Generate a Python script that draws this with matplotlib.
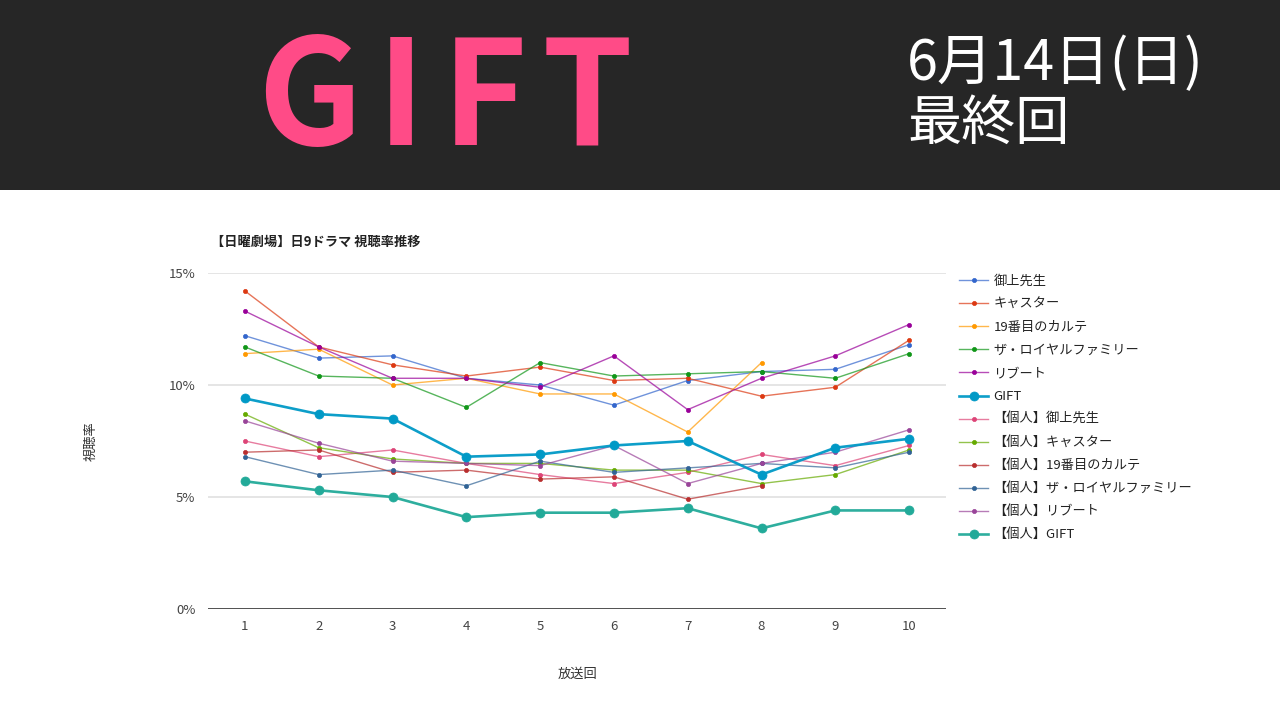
import matplotlib
matplotlib.use("Agg")
import matplotlib.pyplot as plt
from matplotlib.patches import Rectangle
from matplotlib.colors import to_rgba

plt.rcParams['font.family'] = ['Noto Sans CJK JP', 'DejaVu Sans']

episodes = [1, 2, 3, 4, 5, 6, 7, 8, 9, 10]
series_names = ["御上先生", "キャスター", "19番目のカルテ", "ザ・ロイヤルファミリー", "リブート", "GIFT",
                "【個人】御上先生", "【個人】キャスター", "【個人】19番目のカルテ",
                "【個人】ザ・ロイヤルファミリー", "【個人】リブート", "【個人】GIFT"]
mikami = [12.2, 11.2, 11.3, 10.3, 10.0, 9.1, 10.2, 10.6, 10.7, 11.8]
caster = [14.2, 11.7, 10.9, 10.4, 10.8, 10.2, 10.3, 9.5, 9.9, 12.0]
karte19 = [11.4, 11.6, 10.0, 10.3, 9.6, 9.6, 7.9, 11.0, None, None]
royal = [11.7, 10.4, 10.3, 9.0, 11.0, 10.4, 10.5, 10.6, 10.3, 11.4]
reboot = [13.3, 11.7, 10.3, 10.3, 9.9, 11.3, 8.9, 10.3, 11.3, 12.7]
gift = [9.4, 8.7, 8.5, 6.8, 6.9, 7.3, 7.5, 6.0, 7.2, 7.6]
p_mikami = [7.5, 6.8, 7.1, 6.5, 6.0, 5.6, 6.1, 6.9, 6.4, 7.3]
p_caster = [8.7, 7.2, 6.7, 6.5, 6.5, 6.2, 6.2, 5.6, 6.0, 7.1]
p_karte19 = [7.0, 7.1, 6.1, 6.2, 5.8, 5.9, 4.9, 5.5, None, None]
p_royal = [6.8, 6.0, 6.2, 5.5, 6.6, 6.1, 6.3, 6.5, 6.3, 7.0]
p_reboot = [8.4, 7.4, 6.6, 6.5, 6.4, 7.3, 5.6, 6.5, 7.0, 8.0]
p_gift = [5.7, 5.3, 5.0, 4.1, 4.3, 4.3, 4.5, 3.6, 4.4, 4.4]
series_values = [mikami, caster, karte19, royal, reboot, gift,
                 p_mikami, p_caster, p_karte19, p_royal, p_reboot, p_gift]
colors = ["#3366cc", "#dc3912", "#ff9900", "#109618", "#990099", "#0099c6",
          "#dd4477", "#66aa00", "#b82e2e", "#316395", "#994499", "#22aa99"]
yticks = [0, 5, 10, 15]
ytick_labels = ["0%", "5%", "10%", "15%"]
banner_title = "GIFT"

W, H = 1280, 720
fig = plt.figure(figsize=(12.8, 7.2), dpi=100)
fig.patch.set_facecolor("white")

# banner
fig.patches.append(Rectangle((0, 1 - 190 / H), 1, 190 / H, transform=fig.transFigure,
                             facecolor="#262626", edgecolor="none", zorder=0))
letter_centers = [309, 401, 484, 587]
for ch, cx in zip(banner_title, letter_centers):
    fig.text(cx / W, 1 - 102 / H, ch, color="#ff4b87", fontsize=105, fontweight="bold",
             ha="center", va="center")
fig.text(907 / W, 1 - 64 / H, "6月14日(日)", color="white", fontsize=40, fontweight="normal",
         ha="left", va="center")
fig.text(907 / W, 1 - 124 / H, "最終回", color="white", fontsize=39, fontweight="normal",
         ha="left", va="center")

# chart
x0, x1, ytop, ybot = 208, 946, 273, 609
ax = fig.add_axes([x0 / W, 1 - ybot / H, (x1 - x0) / W, (ybot - ytop) / H])
ax.set_xlim(0.5, 10.5)
ax.set_ylim(0, 15)
for s in ax.spines.values():
    s.set_visible(False)
ax.set_yticks(yticks)
ax.set_yticklabels(ytick_labels)
ax.set_xticks(episodes)
ax.set_xticklabels([str(e) for e in episodes])
ax.tick_params(axis="both", length=0, labelsize=9.5, colors="#444444")
ax.tick_params(axis="y", pad=9)
ax.tick_params(axis="x", pad=8)
for v in yticks[1:]:
    ax.axhline(v, color="#e0e0e0", lw=1.2, zorder=0)
ax.axhline(0, color="#333333", lw=1.2, zorder=1)

handles = []
for name, vals, c in zip(series_names, series_values, colors):
    xs = [e for e, v in zip(episodes, vals) if v is not None]
    ys = [v for v in vals if v is not None]
    big = name in ("GIFT", "【個人】GIFT")
    h, = ax.plot(xs, ys, color=to_rgba(c, 0.95 if big else 0.7), lw=1.9 if big else 1.0,
                 marker="o", markersize=6.5 if big else 3.0,
                 markerfacecolor=c, markeredgecolor=c, markeredgewidth=0.5,
                 label=name, zorder=4 if big else 3)
    handles.append(h)

ax.set_xlabel("放送回", fontsize=9.5, color="#333333", labelpad=25)
ax.set_ylabel("視聴率", fontsize=9.5, color="#333333", labelpad=51)

fig.text(211 / W, 1 - 242 / H, "【日曜劇場】日9ドラマ 視聴率推移", fontsize=9.5,
         fontweight="bold", color="#222222", ha="left", va="center")

leg = fig.legend(handles=handles, loc="upper left", bbox_to_anchor=(959 / W, 1 - 275 / H),
                 frameon=False, fontsize=9.5, labelspacing=0.76, handlelength=2.2,
                 handletextpad=0.4, borderaxespad=0, borderpad=0)
for t in leg.get_texts():
    t.set_color("#222222")

fig.savefig("out.png", dpi=100, facecolor="white")
